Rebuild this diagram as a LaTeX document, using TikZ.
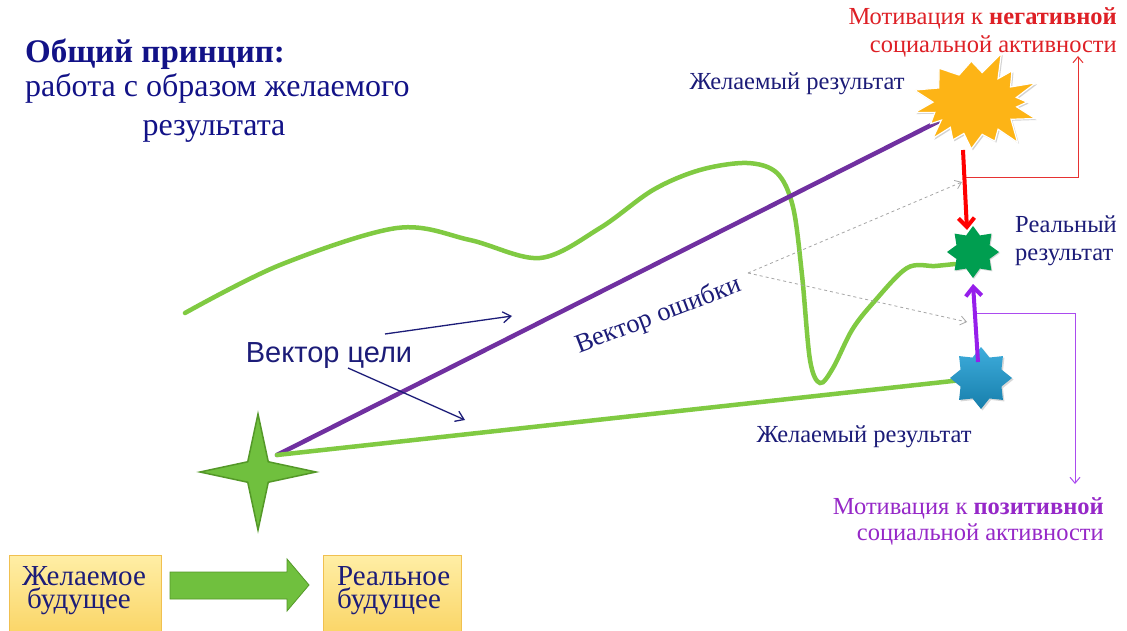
\documentclass[tikz,border=0pt]{standalone}
\usepackage{fontspec}
\setmainfont{Liberation Serif}
\newfontfamily\arialf{Liberation Sans}
\usetikzlibrary{shapes.geometric,arrows.meta,shadows}
\definecolor{navy}{RGB}{28,28,120}
\definecolor{titleblue}{RGB}{18,18,135}
\definecolor{lgreen}{RGB}{128,202,66}
\definecolor{gpurple}{RGB}{112,48,160}
\definecolor{vpurple}{RGB}{150,30,235}
\definecolor{mred}{RGB}{222,32,38}
\definecolor{lred}{RGB}{230,50,50}
\definecolor{gold}{RGB}{253,180,22}
\definecolor{dgreen}{RGB}{0,158,80}
\definecolor{sblue}{RGB}{28,158,214}
\definecolor{ptext}{RGB}{150,40,200}
\definecolor{sgreen}{RGB}{112,192,62}
\definecolor{sgreendark}{RGB}{84,152,40}
\begin{document}
\begin{tikzpicture}[x=1pt,y=-1pt,
  lbl/.style={text=navy, inner sep=0pt},
  curve/.style={draw=lgreen, line width=4.5pt, line cap=round},
  goal/.style={draw=gpurple, line width=4.5pt, line cap=round},
  thickarrow/.style={line width=4pt, -{Straight Barb[length=9pt,width=16pt,line width=4pt]}},
  thinconn/.style={line width=1pt, -{Straight Barb[length=6pt,width=10pt]}},
  hint/.style={draw=navy, line width=1.3pt, -{Straight Barb[length=8pt,width=11pt]}},
  errline/.style={draw=gray!70, dashed, line width=0.8pt, -{Straight Barb[length=6pt,width=9pt]}},
  fbox/.style={rectangle, draw={rgb,255:red,240;green,192;blue,80}, line width=1pt,
     top color={rgb,255:red,255;green,238;blue,165}, bottom color={rgb,255:red,250;green,212;blue,100},
     minimum width=152pt, minimum height=82pt, inner sep=0pt},
  boxtext/.style={text=navy, font=\fontsize{29}{23}\selectfont, inner sep=0pt},
  small/.style={font=\fontsize{24.5}{26}\selectfont}
]
\useasboundingbox (0,0) rectangle (1127,631);
\fill[white] (0,0) rectangle (1127,631);

% key points
\coordinate (org) at (277,455);
\coordinate (burst) at (975,103);

% wavy real path
\draw[curve] plot[smooth, tension=0.55] coordinates {(185,313) (280,265) (397,228) (470,240) (540,258) (600,228) (653,190) (700,170) (747,163) (777,173) (793,207) (802,275) (810,360) (820,383) (833,368) (852,330) (873,303) (907,268) (935,266) (955,264)};

% goal vectors
\draw[goal] (org) -- (burst);
\draw[curve] (org) -- (980,378);

% burst (desired result, negative)
\begin{scope}[shift={(burst)}]
\path[fill=gold, draw=white, line width=1.2pt, drop shadow={shadow xshift=1.5pt, shadow yshift=-1.5pt, opacity=0.35}]
 (14.5:62) -- (28.6:41 and 34) -- (42.8:58) -- (52.6:38 and 33) -- (62.5:43) -- (78.5:36 and 32) -- (94.6:46) -- (108:36 and 32) -- (121:43) -- (130.5:38 and 32) -- (140:55) -- (147.5:40 and 32) -- (155:49) -- (163:42 and 32) -- (171:61) -- (181.5:42 and 32) -- (192:62) -- (208:41 and 32) -- (224:50) -- (244.5:37 and 31) -- (265:42) -- (281.5:36 and 31) -- (298:56) -- (308.5:37 and 31) -- (319:49) -- (330:41 and 32) -- (341.6:64) -- (350:42 and 32) -- (359:52) -- (6.75:42 and 33) -- cycle;
\end{scope}

% stars
\node[star, star points=4, star point ratio=4.0, minimum size=116pt, inner sep=0pt,
      fill=sgreen, draw=sgreendark, line width=1.5pt] (gs) at (258,472) {};
\node[star, star points=8, star point ratio=1.45, minimum size=52pt, inner sep=0pt,
      fill=dgreen, drop shadow={shadow xshift=1pt, shadow yshift=-1pt, opacity=0.3}] (R) at (973,252) {};
\node[star, star points=8, star point ratio=1.4, minimum size=62pt, inner sep=0pt,
      top color=sblue!85!white, bottom color=sblue!80!black,
      drop shadow={shadow xshift=1.5pt, shadow yshift=-1.5pt, opacity=0.3}] (B) at (981,378) {};

% coordinates for connectors
\coordinate (rtop) at (963,150);
\coordinate (rtip) at (967,230);
\coordinate (rj) at (966,178);
\coordinate (negend) at (1078,56);
\coordinate (pbot) at (978,362);
\coordinate (ptip) at (973,284);
\coordinate (pj) at (977,313);
\coordinate (posend) at (1075,484);
\coordinate (apex) at (748,273);
\coordinate (e1) at (962,182);
\coordinate (e2) at (967,322);
\coordinate (h1s) at (385,334);
\coordinate (h1e) at (512,316);
\coordinate (h2s) at (348,368);
\coordinate (h2e) at (465,420);

% motivation connectors
\draw[lred, thinconn] (rj) -| (negend);
\draw[red, thickarrow] (rtop) -- (rtip);
\draw[vpurple!80!white, thinconn] (pj) -| (posend);
\draw[vpurple, thickarrow] (pbot) -- (ptip);

% error vector
\draw[errline] (apex) -- (e1);
\draw[errline] (apex) -- (e2);

% goal hint arrows
\draw[hint] (h1s) -- (h1e);
\draw[hint] (h2s) -- (h2e);

% texts
\node[anchor=base west, text=titleblue, inner sep=0pt, font=\fontsize{33}{36}\selectfont\bfseries] (title) at (25,63) {Общий принцип:};
\node[anchor=base west, text=titleblue, inner sep=0pt, font=\fontsize{32}{36}\selectfont] (sub1) at (25,97) {работа с образом желаемого};
\node[anchor=base, text=titleblue, inner sep=0pt, font=\fontsize{32}{36}\selectfont] (sub2) at (214,136) {результата};

\node[lbl, anchor=base, font=\arialf\fontsize{29}{32}\selectfont] (vc) at (329,362) {Вектор цели};
\node[lbl, anchor=base, rotate=21, font=\fontsize{26.5}{28}\selectfont] (vo) at (661,322) {Вектор ошибки};

\node[lbl, anchor=base, small] (jr1) at (797,90) {Желаемый результат};
\node[lbl, anchor=base, small] (jr2) at (864,442) {Желаемый результат};
\node[lbl, anchor=base west, small] (rr1) at (1015,233) {Реальный};
\node[lbl, anchor=base west, small] (rr2) at (1015,260) {результат};

\node[anchor=base east, text=mred, inner sep=0pt, small] (neg1) at (1117,25) {Мотивация к \textbf{негативной}};
\node[anchor=base east, text=mred, inner sep=0pt, small] (neg2) at (1117,53) {социальной активности};
\node[anchor=base east, text=ptext, inner sep=0pt, small] (pos1) at (1104,514) {Мотивация к \textbf{позитивной}};
\node[anchor=base east, text=ptext, inner sep=0pt, small] (pos2) at (1104,540) {социальной активности};

% bottom boxes
\node[fbox, anchor=north west] (b1) at (9,555) {};
\node[fbox, anchor=north west, minimum width=138pt] (b2) at (323,555) {};
\node[boxtext, anchor=base west] (t1a) at (22,585) {Желаемое};
\node[boxtext, anchor=base west] (t1b) at (27,608) {будущее};
\node[boxtext, anchor=base west] (t2a) at (337,585) {Реальное};
\node[boxtext, anchor=base west] (t2b) at (337,608) {будущее};

% block arrow between boxes
\fill[sgreen, draw=sgreendark, line width=0.8pt] (170,572) -- (287,572) -- (287,559) -- (309,585) -- (287,611) -- (287,599) -- (170,599) -- cycle;

\end{tikzpicture}
\end{document}
